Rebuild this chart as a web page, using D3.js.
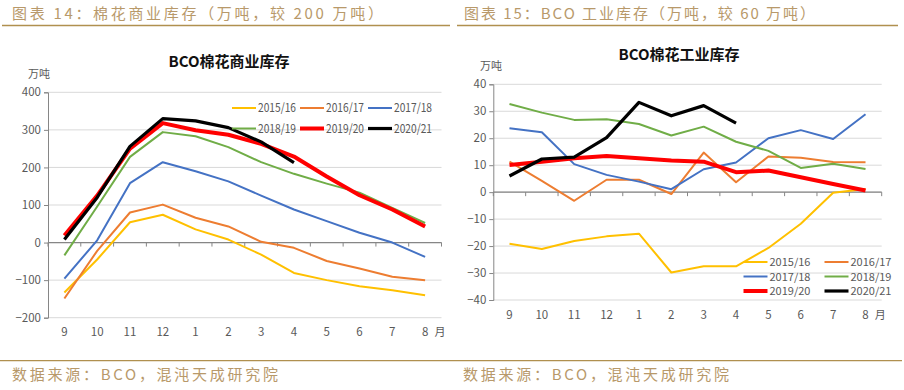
<!DOCTYPE html>
<html>
<head>
<meta charset="utf-8">
<script src="https://cdn.jsdelivr.net/npm/d3@7"></script>
<style>
  body { margin: 0; background: #fff; }
  svg { display: block; }
  text { font-family: "Noto Sans CJK SC", "Noto Sans", sans-serif; }
</style>
</head>
<body>
<div id="chart"></div>
<script>
// month categories (season runs Sep -> Aug)
const months = ["9", "10", "11", "12", "1", "2", "3", "4", "5", "6", "7", "8"];
const seasons = ["2015/16", "2016/17", "2017/18", "2018/19", "2019/20", "2020/21"];
const seasonColors = ["#FFC000", "#ED7D31", "#4472C4", "#70AD47", "#FF0000", "#000000"];
const seasonWidths = [2, 2, 2, 2, 4, 3.2];

// commercial stocks (10k tons)
const commercial1516 = [-133, -45, 54, 74, 35, 8, -32, -81, -100, -116, -127, -140];
const commercial1617 = [-149, -22, 80, 101, 66, 43, 2, -14, -49, -69, -91, -100];
const commercial1718 = [-96, 6, 158, 214, 190, 163, 125, 88, 57, 26, 0, -38];
const commercial1819 = [-34, 96, 228, 294, 283, 254, 214, 183, 157, 133, 92, 52];
const commercial1920 = [19, 125, 250, 318, 299, 287, 263, 229, 176, 126, 88, 43];
const commercial2021 = [8, 120, 256, 330, 324, 306, 268, 213];
const commercialTicks = [-200, -100, 0, 100, 200, 300, 400];

// mill stocks (10k tons)
const mill1516 = [-19.1, -21.1, -18.1, -16.4, -15.4, -29.8, -27.5, -27.5, -20.7, -11.7, -0.2, 1.2];
const mill1617 = [11.3, 4.2, -3.2, 4.6, 4.6, -0.7, 14.7, 3.7, 13.2, 12.8, 11.2, 11.1];
const mill1718 = [23.7, 22.2, 10.4, 6.4, 3.9, 1.1, 8.5, 11, 20, 23, 19.7, 28.9];
const mill1819 = [32.7, 29.5, 26.8, 27, 25.3, 21, 24.3, 18.7, 15.3, 9, 10.5, 8.6];
const mill1920 = [10.1, 11.3, 12.6, 13.4, 12.6, 11.7, 11.3, 7.4, 8, 5.5, 3, 0.6];
const mill2021 = [6, 12.3, 13, 20.2, 33.3, 28.3, 32.1, 25.6];
const millTicks = [-40, -30, -20, -10, 0, 10, 20, 30, 40];

const width = 904;
const height = 390;
const gold = "#B8996A";
const grey = "#595959";

const svg = d3
  .select("#chart")
  .append("svg")
  .attr("width", width)
  .attr("height", height);

// header captions and rules
const headers = [
  { x: 12, len: 371, text: "图表 14：棉花商业库存（万吨，较 200 万吨）", x1: 2, x2: 450 },
  { x: 464, len: 351, text: "图表 15：BCO 工业库存（万吨，较 60 万吨）", x1: 457, x2: 898 },
];
headers.forEach((h) => {
  svg
    .append("text")
    .attr("x", h.x)
    .attr("y", 19)
    .attr("fill", gold)
    .attr("font-size", 15)
    .attr("textLength", h.len)
    .attr("lengthAdjust", "spacing")
    .text(h.text);
  svg
    .append("line")
    .attr("x1", h.x1)
    .attr("x2", h.x2)
    .attr("y1", 25.5)
    .attr("y2", 25.5)
    .attr("stroke", "#B0904F")
    .attr("stroke-width", 1.3);
});

// footer
svg
  .append("line")
  .attr("x1", 0)
  .attr("x2", 902)
  .attr("y1", 360.7)
  .attr("y2", 360.7)
  .attr("stroke", "#B0904F")
  .attr("stroke-width", 1.3);
[12, 463].forEach((x) => {
  svg
    .append("text")
    .attr("x", x)
    .attr("y", 379.5)
    .attr("fill", gold)
    .attr("font-size", 15)
    .attr("textLength", 266)
    .attr("lengthAdjust", "spacing")
    .text("数据来源：BCO，混沌天成研究院");
});

function drawPanel(cfg) {
  const g = svg.append("g");
  const x = d3
    .scaleBand()
    .domain(months)
    .range([cfg.left, cfg.right]);
  const y = d3
    .scaleLinear()
    .domain(cfg.domain)
    .range([cfg.bottom, cfg.top]);

  // title
  g.append("text")
    .attr("x", cfg.titleX)
    .attr("y", cfg.titleY)
    .attr("text-anchor", "middle")
    .attr("font-size", 15)
    .attr("font-weight", 600)
    .attr("fill", "#111")
    .text(cfg.title);

  // unit
  g.append("text")
    .attr("x", cfg.unitX)
    .attr("y", cfg.unitY)
    .attr("font-size", 11)
    .attr("fill", grey)
    .text("万吨");

  // horizontal gridlines
  g.selectAll(".grid")
    .data(cfg.ticks)
    .enter()
    .append("line")
    .attr("x1", cfg.left)
    .attr("x2", cfg.right)
    .attr("y1", (d) => y(d))
    .attr("y2", (d) => y(d))
    .attr("stroke", "#D9D9D9")
    .attr("stroke-width", 1);

  // y axis
  const yAxis = g
    .append("g")
    .attr("transform", `translate(${cfg.left},0)`)
    .call(d3.axisLeft(y).tickValues(cfg.ticks).tickSize(4).tickPadding(3).tickFormat((d) => (d < 0 ? "−" + Math.abs(d) : d)));
  yAxis.select(".domain").attr("stroke", "#868686");
  yAxis.selectAll(".tick line").attr("stroke", "#868686");
  yAxis.selectAll("text").attr("fill", grey).attr("font-size", 11.5).attr("font-family", "Noto Sans, sans-serif");

  // zero axis with ticks on band boundaries
  g.append("line")
    .attr("x1", cfg.left)
    .attr("x2", cfg.right)
    .attr("y1", y(0))
    .attr("y2", y(0))
    .attr("stroke", "#868686")
    .attr("stroke-width", 1.3);
  g.selectAll(".btick")
    .data(d3.range(months.length + 1))
    .enter()
    .append("line")
    .attr("x1", (i) => cfg.left + i * x.step())
    .attr("x2", (i) => cfg.left + i * x.step())
    .attr("y1", y(0))
    .attr("y2", y(0) + 4)
    .attr("stroke", "#868686");

  // month labels along the bottom
  g.selectAll(".mlabel")
    .data(months)
    .enter()
    .append("text")
    .attr("x", (d) => x(d) + x.bandwidth() / 2)
    .attr("y", cfg.labelY)
    .attr("text-anchor", "middle")
    .attr("font-size", 11.5)
    .attr("font-family", "Noto Sans, sans-serif")
    .attr("fill", grey)
    .text((d) => d);
  g.append("text")
    .attr("x", cfg.right - 7)
    .attr("y", cfg.labelY)
    .attr("font-size", 11)
    .attr("fill", grey)
    .text("月");

  // season lines
  const line = d3
    .line()
    .x((d, i) => x(months[i]) + x.bandwidth() / 2)
    .y((d) => y(d));
  cfg.series.forEach((values, i) => {
    g.append("path")
      .datum(values)
      .attr("d", line)
      .attr("fill", "none")
      .attr("stroke", seasonColors[i])
      .attr("stroke-width", seasonWidths[i])
      .attr("stroke-linejoin", "round");
  });

  // legend
  seasons.forEach((s, i) => {
    const lx = cfg.legendCols[i % cfg.legendCols.length];
    const ly = cfg.legendRows[Math.floor(i / cfg.legendCols.length)];
    g.append("line")
      .attr("x1", lx)
      .attr("x2", lx + 24)
      .attr("y1", ly)
      .attr("y2", ly)
      .attr("stroke", seasonColors[i])
      .attr("stroke-width", seasonWidths[i]);
    g.append("text")
      .attr("x", lx + 26)
      .attr("y", ly + 4)
      .attr("font-size", cfg.legendFont)
      .attr("font-family", "Noto Sans, sans-serif")
      .attr("textLength", cfg.legendLen)
      .attr("lengthAdjust", "spacingAndGlyphs")
      .attr("fill", grey)
      .text(s);
  });
}

drawPanel({
  title: "BCO棉花商业库存",
  titleX: 229,
  titleY: 67,
  unitX: 28,
  unitY: 78,
  left: 48,
  right: 441.5,
  top: 92.3,
  bottom: 317.7,
  domain: [-200, 400],
  ticks: commercialTicks,
  labelY: 336,
  series: [commercial1516, commercial1617, commercial1718, commercial1819, commercial1920, commercial2021],
  legendCols: [232, 300, 368],
  legendRows: [108, 128.5],
  legendFont: 12,
  legendLen: 38,
});

drawPanel({
  title: "BCO棉花工业库存",
  titleX: 679,
  titleY: 60,
  unitX: 480,
  unitY: 70,
  left: 493.3,
  right: 881.7,
  top: 84.3,
  bottom: 300,
  domain: [-40, 40],
  ticks: millTicks,
  labelY: 318.5,
  series: [mill1516, mill1617, mill1718, mill1819, mill1920, mill2021],
  legendCols: [743.5, 824.5],
  legendRows: [262, 276.5, 291],
  legendFont: 10.5,
  legendLen: 41,
});
</script>
</body>
</html>
